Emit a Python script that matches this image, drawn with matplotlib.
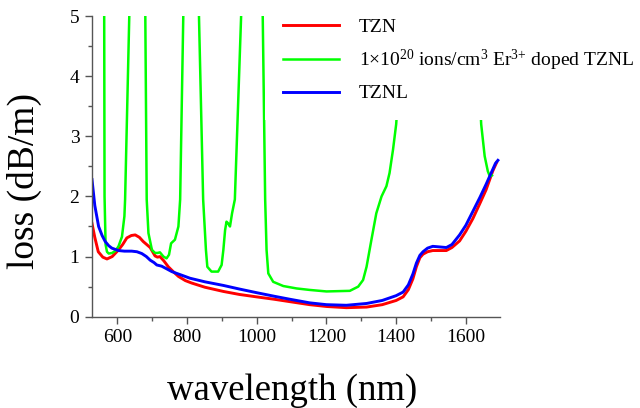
import numpy as np
import matplotlib
matplotlib.use("Agg")
import matplotlib.pyplot as plt
from matplotlib.ticker import MultipleLocator

plt.rcParams['font.family'] = ['Liberation Serif', 'DejaVu Serif']
plt.rcParams['mathtext.fontset'] = 'custom'
plt.rcParams['mathtext.rm'] = 'Liberation Serif'
plt.rcParams['mathtext.it'] = 'Liberation Serif'
plt.rcParams['mathtext.default'] = 'regular'

labels = ["TZN", r"1×10$^{20}$ ions/cm$^{3}$ Er$^{3{+}}$ doped TZNL", "TZNL"]
colors = ["#ff0000", "#00ff00", "#0000ff"]

red_x = [527, 535, 545, 558, 570, 585, 603, 615, 627, 640, 651, 663, 674, 684, 694, 701, 708,
         715, 722, 733, 746, 760, 775, 795, 813, 851, 904, 950, 999, 1050, 1095, 1152, 1200,
         1257, 1315, 1360, 1400, 1420, 1435, 1448, 1458, 1468, 1477, 1490, 1505, 1525, 1544,
         1560, 1582, 1600, 1620, 1640, 1658, 1677, 1688]
red_y = [1.55, 1.32, 1.08, 0.99, 0.96, 1.0, 1.11, 1.2, 1.31, 1.35, 1.36, 1.32, 1.25, 1.2, 1.15,
         1.08, 1.01, 0.99, 1.0, 0.93, 0.83, 0.75, 0.67, 0.6, 0.56, 0.49, 0.42, 0.37, 0.33, 0.29,
         0.25, 0.2, 0.17, 0.15, 0.16, 0.2, 0.27, 0.33, 0.45, 0.63, 0.83, 0.98, 1.04, 1.08, 1.1,
         1.1, 1.1, 1.15, 1.26, 1.42, 1.63, 1.88, 2.11, 2.42, 2.56]

green_x = [555, 562, 563, 566, 570, 575, 585, 595, 603, 613, 620, 622, 634, 640,
           675, 680, 684, 689, 699, 708, 715, 722, 732, 741, 748, 754, 765, 775, 780, 789, 795,
           828, 834, 846, 854, 858, 870, 889, 899, 904, 909, 913, 918, 923, 929, 937, 955, 962,
           1010, 1017, 1024, 1028, 1033, 1047, 1076, 1114, 1152, 1200, 1267, 1291, 1305, 1315,
           1329, 1343, 1358, 1372, 1381, 1391, 1400, 1406, 1412,
           1630, 1640, 1644, 1654, 1663, 1669, 1675]
green_y = [6.0, 5.0, 2.0, 1.2, 1.08, 1.05, 1.06, 1.1, 1.17, 1.33, 1.67, 1.95, 5.0, 6.0,
           6.0, 5.0, 1.95, 1.39, 1.11, 1.06, 1.06, 1.07, 1.0, 0.97, 1.03, 1.22, 1.28, 1.5, 1.95,
           5.0, 6.0,
           6.0, 5.0, 1.95, 1.11, 0.83, 0.75, 0.75, 0.86, 1.11, 1.44, 1.58, 1.55, 1.5, 1.72, 1.95,
           5.0, 6.0,
           6.0, 5.0, 1.95, 1.11, 0.72, 0.58, 0.51, 0.47, 0.445, 0.42, 0.43, 0.5, 0.61, 0.83,
           1.28, 1.72, 2.0, 2.17, 2.39, 2.78, 3.2, 3.7, 6.0,
           6.0, 3.7, 3.2, 2.67, 2.42, 2.33, 2.35]

blue_x = [527, 535, 546, 556, 565, 575, 584, 603, 620, 641, 656, 670, 683, 694, 705, 713, 720,
          727, 740, 756, 775, 794, 808, 851, 904, 950, 999, 1050, 1095, 1152, 1200, 1257, 1315,
          1360, 1400, 1420, 1435, 1448, 1458, 1468, 1477, 1490, 1505, 1525, 1544, 1560, 1582,
          1600, 1620, 1640, 1658, 1675, 1685, 1692]
blue_y = [2.28, 1.85, 1.5, 1.35, 1.25, 1.18, 1.14, 1.10, 1.09, 1.09, 1.08, 1.05, 1.0, 0.94, 0.9,
          0.86, 0.85, 0.84, 0.8, 0.75, 0.71, 0.67, 0.64, 0.58, 0.52, 0.46, 0.40, 0.34, 0.29,
          0.23, 0.2, 0.19, 0.22, 0.27, 0.35, 0.41, 0.53, 0.71, 0.89, 1.02, 1.08, 1.14, 1.17,
          1.16, 1.15, 1.2, 1.36, 1.52, 1.75, 1.98, 2.2, 2.42, 2.55, 2.6]

x_ticks = [600, 800, 1000, 1200, 1400, 1600]
y_ticks = [0, 1, 2, 3, 4, 5]

fig = plt.figure(figsize=(6.4, 4.08), dpi=100)
ax = fig.add_axes([92/640, 1 - 316.7/408, 408/640, 300.7/408])

ax.plot(red_x, red_y, color=colors[0], lw=2.1, label=labels[0])
ax.plot(green_x, green_y, color=colors[1], lw=1.8, label=labels[1])
ax.plot(blue_x, blue_y, color=colors[2], lw=2.1, label=labels[2])

ax.set_xlim(527, 1698)
ax.set_ylim(0, 5)
ax.set_xticks(x_ticks)
ax.set_yticks(y_ticks)
ax.xaxis.set_minor_locator(MultipleLocator(100))
ax.yaxis.set_minor_locator(MultipleLocator(0.5))
for s in ['top', 'right']:
    ax.spines[s].set_visible(False)
for s in ['left', 'bottom']:
    ax.spines[s].set_color('#555555')
    ax.spines[s].set_linewidth(1.0)
ax.tick_params(which='major', direction='out', length=5, width=1, color='#555555',
               labelsize=14, pad=4)
ax.tick_params(which='minor', direction='out', length=3, width=1, color='#555555')

ax.set_xlabel("wavelength (nm)", fontsize=26.5)
ax.set_ylabel("loss (dB/m)", fontsize=27)
ax.xaxis.set_label_coords(0.49, -0.19)
ax.yaxis.set_label_coords(-0.1225, 0.451)

leg = ax.legend(loc='upper left', bbox_to_anchor=(265/640, 1 - 0.5/408), bbox_transform=fig.transFigure,
                frameon=True, fancybox=False, edgecolor='none', facecolor='white', framealpha=1,
                fontsize=14, handlelength=2.9, handletextpad=1.0, labelspacing=0.6,
                borderpad=0.93, borderaxespad=0)
leg.set_zorder(5)

fig.savefig("out.png", dpi=100)
